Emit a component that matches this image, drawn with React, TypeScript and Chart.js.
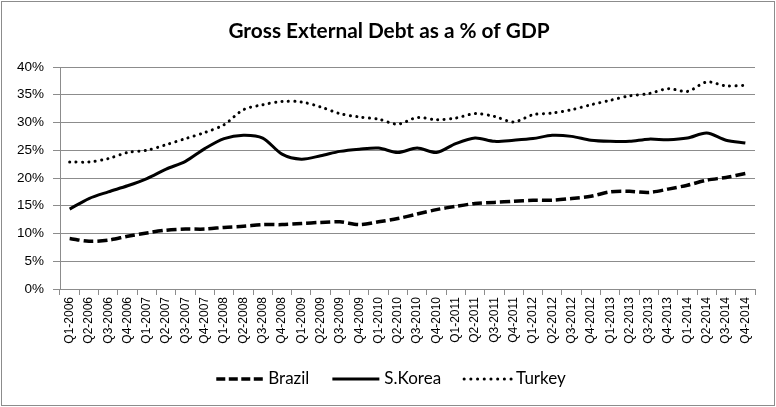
import React, { useEffect, useRef } from "react";
import { Chart, registerables } from "chart.js";

Chart.register(...registerables);

const categories: string[] = [
  "Q1-2006","Q2-2006","Q3-2006","Q4-2006",
  "Q1-2007","Q2-2007","Q3-2007","Q4-2007",
  "Q1-2008","Q2-2008","Q3-2008","Q4-2008",
  "Q1-2009","Q2-2009","Q3-2009","Q4-2009",
  "Q1-2010","Q2-2010","Q3-2010","Q4-2010",
  "Q1-2011","Q2-2011","Q3-2011","Q4-2011",
  "Q1-2012","Q2-2012","Q3-2012","Q4-2012",
  "Q1-2013","Q2-2013","Q3-2013","Q4-2013",
  "Q1-2014","Q2-2014","Q3-2014","Q4-2014",
];

const brazil: number[] = [
  9.1, 8.6, 8.8, 9.5, 10.1, 10.6, 10.8, 10.8,
  11.1, 11.3, 11.6, 11.6, 11.8, 12.0, 12.1, 11.6,
  12.1, 12.7, 13.5, 14.3, 14.9, 15.4, 15.6, 15.8,
  16.0, 16.0, 16.3, 16.7, 17.5, 17.6, 17.4, 18.0,
  18.7, 19.6, 20.1, 20.8,
];

const skorea: number[] = [
  14.4, 16.3, 17.5, 18.6, 19.9, 21.6, 23.0, 25.3,
  27.1, 27.7, 27.2, 24.3, 23.4, 24.0, 24.8, 25.2,
  25.4, 24.6, 25.4, 24.6, 26.2, 27.2, 26.6, 26.8,
  27.1, 27.7, 27.5, 26.8, 26.6, 26.6, 27.0, 26.9,
  27.2, 28.1, 26.8, 26.3,
];

const turkey: number[] = [
  22.9, 22.9, 23.5, 24.6, 25.0, 26.0, 27.1, 28.2,
  29.6, 32.3, 33.2, 33.8, 33.7, 32.8, 31.6, 31.0,
  30.6, 29.7, 30.9, 30.5, 30.8, 31.6, 31.1, 30.1,
  31.4, 31.7, 32.3, 33.2, 34.0, 34.8, 35.2, 36.1,
  35.6, 37.3, 36.6, 36.7,
];

const yTicks: number[] = [0, 5, 10, 15, 20, 25, 30, 35, 40];

const titleText = "Gross External Debt as a % of GDP";

const frame = {
  id: "frame",
  beforeDraw(chart: any) {
    const { ctx, width, height } = chart;
    ctx.save();
    ctx.fillStyle = "#ffffff";
    ctx.fillRect(0, 0, width, height);
    ctx.strokeStyle = "#8c8c8c";
    ctx.lineWidth = 1;
    ctx.strokeRect(1.5, 1.5, width - 3, height - 3);
    ctx.restore();
  },
  afterDraw(chart: any) {
    const { ctx, width } = chart;
    ctx.save();
    // title
    ctx.fillStyle = "#000000";
    ctx.font = "bold 20.8px Lato";
    ctx.textAlign = "center";
    ctx.textBaseline = "middle";
    ctx.fillText(titleText, width / 2 + 1, 31);

    // legend
    ctx.font = "17px Lato";
    ctx.textAlign = "left";
    const lineLen = 47;
    const gapLT = 5;
    const gapItems = 23;
    const items = chart.data.datasets.map((ds: any) => ({
      ds,
      tw: ctx.measureText(ds.label).width,
    }));
    const total =
      items.reduce((s: number, it: any) => s + lineLen + gapLT + it.tw, 0) +
      gapItems * (items.length - 1);
    let x = width / 2 + 3 - total / 2;
    const y = 379;
    items.forEach((it: any) => {
      const ds = it.ds;
      ctx.beginPath();
      ctx.strokeStyle = ds.borderColor;
      ctx.lineWidth = ds.borderWidth;
      ctx.lineCap = ds.borderCapStyle || "butt";
      ctx.setLineDash(ds.legendDash || []);
      ctx.moveTo(x, y);
      ctx.lineTo(x + lineLen, y);
      ctx.stroke();
      ctx.setLineDash([]);
      ctx.fillStyle = "#000000";
      ctx.fillText(ds.label, x + lineLen + gapLT, y);
      x += lineLen + gapLT + it.tw + gapItems;
    });
    ctx.restore();
  },
};

export default function App() {
  const ref = useRef<HTMLCanvasElement | null>(null);

  useEffect(() => {
    document.body.style.margin = "0";
    if (!ref.current) return;
    const chart = new Chart(ref.current, {
      type: "line",
      data: {
        labels: categories,
        datasets: [
          {
            label: "Brazil",
            data: brazil,
            borderColor: "#000000",
            backgroundColor: "#000000",
            borderWidth: 3.5,
            borderDash: [10, 4],
            legendDash: [9, 3.5],
            pointRadius: 0,
            tension: 0.3,
          } as any,
          {
            label: "S.Korea",
            data: skorea,
            borderColor: "#000000",
            backgroundColor: "#000000",
            borderWidth: 3,
            pointRadius: 0,
            tension: 0.3,
          },
          {
            label: "Turkey",
            data: turkey,
            borderColor: "#000000",
            backgroundColor: "#000000",
            borderWidth: 3,
            borderDash: [0.1, 6.3],
            legendDash: [0.1, 6.6],
            borderCapStyle: "round",
            pointRadius: 0,
            tension: 0.3,
          } as any,
        ],
      },
      options: {
        animation: false,
        responsive: false,
        maintainAspectRatio: false,
        layout: { padding: { left: 0, right: 21, top: 67, bottom: 60 } },
        plugins: {
          title: { display: false },
          legend: { display: false },
          tooltip: { enabled: false },
        },
        scales: {
          x: {
            offset: true,
            afterFit: (s: any) => {
              s.height = 58;
            },
            grid: {
              offset: true,
              drawOnChartArea: false,
              drawTicks: true,
              tickLength: 6,
              color: "#8c8c8c",
            },
            border: { color: "#8c8c8c" },
            ticks: {
              autoSkip: false,
              maxRotation: 90,
              minRotation: 90,
              color: "#000000",
              font: { family: "Liberation Sans", size: 12 },
              padding: 2,
            },
          },
          y: {
            min: 0,
            max: 40,
            afterFit: (s: any) => {
              s.width = 60;
            },
            afterBuildTicks: (s: any) => {
              s.ticks = yTicks.map((v) => ({ value: v }));
            },
            grid: { color: "#8c8c8c", tickLength: 7 },
            border: { color: "#8c8c8c" },
            ticks: {
              color: "#000000",
              font: { family: "Liberation Sans", size: 13.5 },
              callback: (v: any) => v + "%",
              padding: 9,
            },
          },
        },
      },
      plugins: [frame],
    });
    return () => chart.destroy();
  }, []);

  return (
    <div style={{ width: 776, height: 407 }}>
      <canvas ref={ref} width={776} height={407} style={{ display: "block" }} />
    </div>
  );
}
